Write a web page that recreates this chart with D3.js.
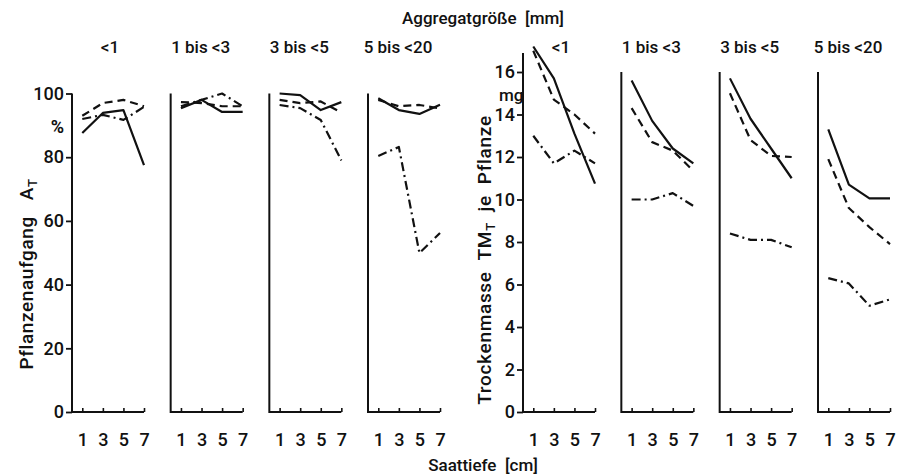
<!DOCTYPE html>
<html><head><meta charset="utf-8">
<script src="https://cdn.jsdelivr.net/npm/d3@7/dist/d3.min.js"></script>
<style>
body{margin:0;background:#fff;}
text{font-family:Roboto, "DejaVu Sans", sans-serif;fill:#111;}
</style></head>
<body><svg id="c" width="902" height="474"></svg>
<script>
// ---- data ----
const depths = [1, 3, 5, 7];
const depthTicks = ["1", "3", "5", "7"];
const aggregates = ["<1", "1 bis <3", "3 bis <5", "5 bis <20"];
const emergenceTicks = [0, 20, 40, 60, 80, 100];
const massTicks = [0, 2, 4, 6, 8, 10, 12, 14, 16];
// Pflanzenaufgang A_T (%) per aggregate class, per depth
const emSolid   = [[87.6, 93.9, 94.8, 77.5], [95.4, 98.0, 94.2, 94.2], [100, 99.5, 94.8, 97.3], [98.5, 94.8, 93.6, 96.5]];
const emDashed  = [[93.0, 97.0, 98.0, 96.0], [97.3, 97.0, 96.0, 96.0], [98.0, 97.0, 97.5, 94.0], [98.0, 96.0, 96.4, 95.3]];
const emDashDot = [[92.0, 93.3, 91.7, 95.8], [96.0, 98.0, 100, 96.0], [96.4, 95.4, 91.7, 79.0], [80.4, 83.2, 49.9, 56.2]];
// Trockenmasse TM_T je Pflanze (mg)
const dmSolid   = [[17.2, 15.7, 13.1, 10.75], [15.6, 13.7, 12.4, 11.7], [15.7, 13.8, 12.4, 11.0], [13.3, 10.7, 10.05, 10.05]];
const dmDashed  = [[17.0, 14.7, 14.0, 13.1], [14.3, 12.7, 12.3, 11.35], [15.0, 12.8, 12.05, 12.0], [11.9, 9.6, 8.7, 7.9]];
const dmDashDot = [[13.0, 11.7, 12.3, 11.7], [10.0, 10.0, 10.3, 9.7], [8.4, 8.1, 8.1, 7.75], [6.3, 6.05, 5.0, 5.3]];

// ---- drawing ----
const svg = d3.select("#c");
const dashes = [null, "8,5", "9,4,2,4"];
const panelW = 72;
const yEm = d3.scaleLinear().domain([0, 100]).range([412, 93.5]);
const yDm = d3.scaleLinear().domain([0, 16]).range([412, 72]);
const leftPanels = d3.scaleLinear().domain([0, 3]).range([72, 368]);
const rightPanels = d3.scaleLinear().domain([0, 3]).range([523, 818]);
const NB = "\u00a0";

function drawGroup(panelScale, yScale, series, yTop, firstTop) {
  aggregates.forEach((agg, i) => {
    const ax = panelScale(i);
    const x = d3.scaleLinear().domain([0, 7]).range([ax, ax + panelW]);
    const g = svg.append("g");
    g.append("line").attr("x1", ax).attr("x2", ax)
      .attr("y1", i === 0 ? firstTop : yScale(yTop)).attr("y2", yScale(0) + 1)
      .attr("stroke", "#111").attr("stroke-width", 2);
    const xa = g.append("g").attr("transform", `translate(0,${yScale(0)})`)
      .call(d3.axisBottom(x).tickValues(depths).tickSize(-4).tickFormat((d, k) => depthTicks[k]).tickPadding(18));
    xa.select(".domain").attr("d", `M${ax},0H${x(7)}`).attr("stroke", "#111").attr("stroke-width", 2);
    xa.selectAll(".tick line").attr("stroke", "#111").attr("stroke-width", 1.6);
    xa.selectAll(".tick text").attr("font-size", 18).attr("font-weight", 500).attr("fill", "#111").attr("dy", "0.9em");
    g.append("text").attr("x", ax + 30 + (agg.length < 4 ? 8 : 0)).attr("y", 53)
      .attr("text-anchor", "middle").attr("font-size", 17).attr("font-weight", 500)
      .text(agg.replace(/ /g, NB));
    const line = d3.line().x((d, k) => x(depths[k])).y(d => yScale(d));
    series.forEach((s, si) => {
      g.append("path").attr("d", line(s[i])).attr("fill", "none")
        .attr("stroke", "#111").attr("stroke-width", 2.2)
        .attr("stroke-linejoin", "round")
        .attr("stroke-dasharray", dashes[si]);
    });
  });
}

drawGroup(leftPanels, yEm, [emSolid, emDashed, emDashDot], 100, yEm(100));
drawGroup(rightPanels, yDm, [dmSolid, dmDashed, dmDashDot], 16, yDm(16.9));

function yAxis(ax, yScale, ticks) {
  const g = svg.append("g").attr("transform", `translate(${ax},0)`)
    .call(d3.axisLeft(yScale).tickValues(ticks).tickSize(6).tickPadding(2));
  g.select(".domain").remove();
  g.selectAll(".tick line").attr("stroke", "#111").attr("stroke-width", 1.8);
  g.selectAll(".tick text").attr("font-size", 18).attr("font-weight", 500).attr("fill", "#111");
}
yAxis(leftPanels(0), yEm, emergenceTicks);
yAxis(rightPanels(0), yDm, massTicks);

svg.append("text").attr("x", 64).attr("y", 133).attr("text-anchor", "end")
  .attr("font-size", 18).attr("font-weight", 700).text("%");
svg.append("text").attr("x", 499).attr("y", 101)
  .attr("font-size", 17).attr("font-weight", 500).text("mg");

svg.append("text").attr("x", 483).attr("y", 24).attr("text-anchor", "middle")
  .attr("font-size", 17).attr("font-weight", 500).text("Aggregatgröße" + NB + NB + "[mm]");
svg.append("text").attr("x", 483).attr("y", 471).attr("text-anchor", "middle")
  .attr("font-size", 17).attr("font-weight", 500).text("Saattiefe" + NB + NB + "[cm]");

const yl = svg.append("text").attr("transform", "translate(33,274) rotate(-90)")
  .attr("text-anchor", "middle").attr("font-size", 19).attr("font-weight", 500)
  .attr("letter-spacing", 0.6);
yl.append("tspan").text("Pflanzenaufgang" + NB + NB + NB + "A");
yl.append("tspan").attr("font-size", 13).attr("dy", 4).text("T");

const yr = svg.append("text").attr("transform", "translate(491,260) rotate(-90)")
  .attr("text-anchor", "middle").attr("font-size", 19).attr("font-weight", 500)
  .attr("letter-spacing", 0.7);
yr.append("tspan").text("Trockenmasse" + NB + NB + "TM");
yr.append("tspan").attr("font-size", 13).attr("dy", 4).text("T");
yr.append("tspan").attr("dy", -4).text(NB + NB + "je" + NB + NB + "Pflanze");
</script></body></html>
